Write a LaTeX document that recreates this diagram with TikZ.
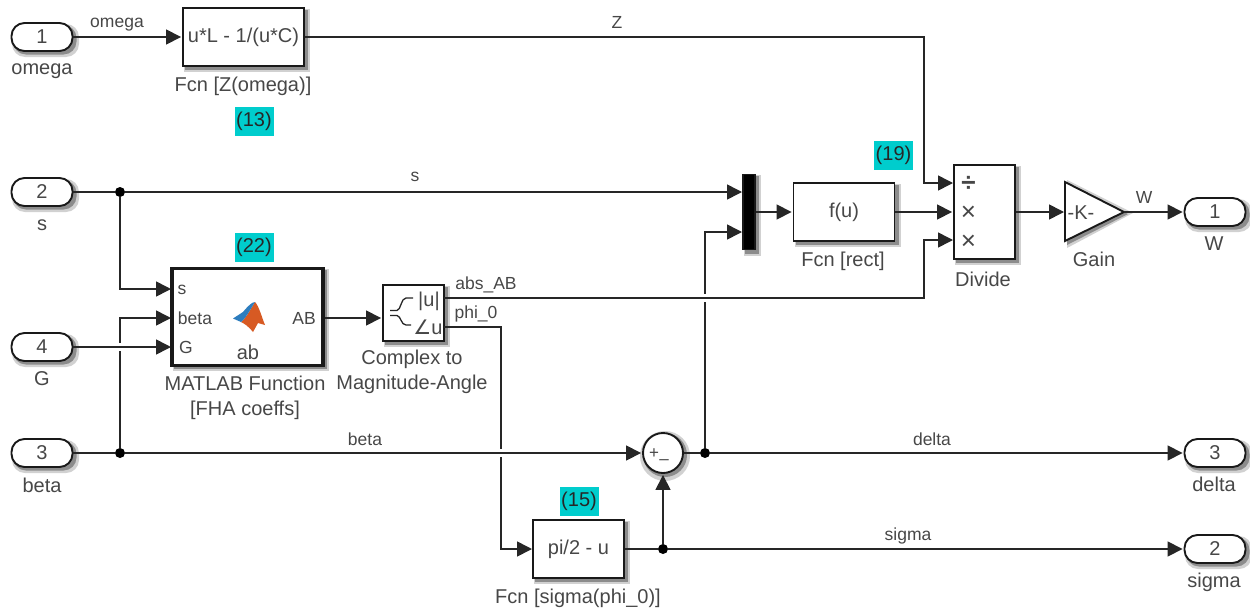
\documentclass[tikz,border=0pt]{standalone}
\usepackage{fontspec}
\setmainfont{Liberation Sans}
\newfontfamily\symfont{DejaVu Sans}
\usetikzlibrary{arrows.meta}
\definecolor{tagcyan}{RGB}{0,205,205}
\definecolor{logoblue}{RGB}{45,125,190}
\definecolor{logoorange}{RGB}{215,90,35}
\begin{document}
\begin{tikzpicture}[x=1pt,y=-1pt,
  every node/.style={font=\fontsize{20}{25}\selectfont,text=black!72,inner sep=0pt,align=center},
  sig/.style={font=\fontsize{17.5}{20}\selectfont},
  wire/.style={line width=1.6pt,black!85,-{Triangle[length=15pt,width=15pt]},shorten >=1pt},
  plainwire/.style={line width=1.6pt,black!85},
  block/.style={draw=black!90,line width=1.9pt,fill=white},
  port/.style={block,rounded corners=13pt,minimum width=61pt,minimum height=28pt},
  tag/.style={fill=tagcyan,minimum width=39pt,minimum height=29pt,text=black!85},
  dot/.style={circle,fill=black,minimum size=10pt}]
\useasboundingbox (0,0) rectangle (1250,608);
\foreach \xa/\ya/\xb/\yb/\rr in {183/8/304/66/0,172/268/323/365/0,383/285/444/341/0,743/174/755/250/0,794/183/895/241/0,954/165/1015/259/0,533/520/624/578/0,
  11/23/73/51/13,11/178/73/206/13,11/333/73/361/13,11/439/73/467/13,1184/198/1246/226/13,1184/439/1246/467/13,1184/535/1246/563/13}{
  \fill[black!18,rounded corners=\rr pt] (\xa+1,\ya+1) rectangle (\xb+6,\yb+6);
  \fill[black!45,rounded corners=\rr pt] (\xa+2,\ya+2) rectangle (\xb+3.5,\yb+3.5);
}
\fill[black!18] (1067,180) -- (1133,213) -- (1067,248) -- cycle;
\fill[black!45] (1067,184) -- (1128,214) -- (1067,245) -- cycle;
\fill[black!18] (665,456) circle (25);
\fill[black!45] (665,455) circle (22);
\node[port] (in1) at (42,37) {1};
\node[port] (in2) at (42,192) {2};
\node[port] (in4) at (42,347) {4};
\node[port] (in3) at (42,453) {3};
\node[port] (outW) at (1215,212) {1};
\node[port] (outdelta) at (1215,453) {3};
\node[port] (outsigma) at (1215,549) {2};
\node (lomega) at (42,71) {omega};
\node (ls) at (42,225) {s};
\node (lG) at (42,379) {G};
\node (lbeta) at (42,485) {beta};
\node (lW) at (1214,244) {W};
\node (ldelta) at (1214,484) {delta};
\node (lsigma) at (1214,582) {sigma};
\node[block,minimum width=121pt,minimum height=58pt] (fcnZ) at (243.5,37) {u*L - 1/(u*C)};
\node (lfcnZ) at (243,86) {Fcn [Z(omega)]};
\node[tag] (t13) at (254,121) {(13)};
\node[tag] (t22) at (254,247) {(22)};
\node[block,line width=3.5pt,minimum width=151pt,minimum height=97pt] (ml) at (247.5,317) {};
\node[sig] (ms) at (182,290) {s};
\node[sig] (mbeta) at (195,318) {beta};
\node[sig] (mG) at (186,347) {G};
\node[sig] (mAB) at (304,318) {AB};
\node (mab) at (248,352) {ab};
\fill[logoorange] (255,302) .. controls (259,306) and (262,318) .. (265,325) -- (258,323) -- (253,332) .. controls (248,326) and (245,324) .. (241,322) .. controls (246,318) and (250,310) .. cycle;
\fill[logoblue] (233,318.5) -- (243,312) .. controls (248,306) and (252,302) .. (255,302) .. controls (250,310) and (246,318) .. (241,322) -- cycle;
\node (lml) at (245,398) {MATLAB Function\\{[FHA coeffs]}};
\node[block,minimum width=61pt,minimum height=56pt] (mag) at (413.5,313) {};
\node (magu) at (429,301) {|u|};
\node (maga) at (428,327) {{\symfont ∠}u};
\draw[line width=1.3pt,black!85] (390,310.5) -- (397,310.5) .. controls (401,310) and (401,298) .. (406,298) -- (413,298);
\draw[line width=1.3pt,black!85] (390,315.5) -- (397,315.5) .. controls (401,316) and (401,325) .. (406,325) -- (411,325);
\node (lmag) at (412,372) {Complex to\\Magnitude-Angle};
\node[block,fill=black,minimum width=12pt,minimum height=75pt] (mux) at (749,212) {};
\node[block,minimum width=101pt,minimum height=58pt] (fcnrect) at (844,212) {f(u)};
\node (lrect) at (843,261) {Fcn [rect]};
\node[tag] (t19) at (893.5,155) {(19)};
\node[block,minimum width=61pt,minimum height=94pt] (divide) at (984.5,212) {};
\node (dv) at (968.5,184) {\fontsize{26}{26}\bfseries\selectfont ÷};
\node (m1) at (968.5,213) {\fontsize{26}{26}\selectfont ×};
\node (m2) at (968.5,242) {\fontsize{26}{26}\selectfont ×};
\node (ldiv) at (983,279) {Divide};
\draw[block,line join=miter] (1065,182) -- (1124,212) -- (1065,241) -- cycle;
\coordinate (gain) at (1065,212);
\coordinate (gainout) at (1124,212);
\node (K) at (1081,213) {-K-};
\node (lgain) at (1094,259) {Gain};
\node[block,circle,minimum size=40pt] (sum) at (663,453) {};
\node (plus) at (654,454) {\fontsize{17}{17}\selectfont +};
\node (minus) at (664,462) {\fontsize{17}{17}\selectfont --};
\node[block,minimum width=91pt,minimum height=58pt] (fcnsig) at (578.5,549) {pi/2 - u};
\node (lsig) at (578,598) {Fcn [sigma(phi\_0)]};
\node[tag] (t15) at (579,501) {(15)};
\node[dot] (j2) at (120,192) {};
\node[dot] (j3) at (120,453) {};
\node[dot] (jd) at (705,453) {};
\node[dot] (js) at (663,549) {};
\coordinate (mlS) at (172,289);
\coordinate (mlB) at (172,318);
\coordinate (mlG) at (172,347);
\coordinate (muxA) at (743,192);
\coordinate (muxB) at (743,232);
\coordinate (divA) at (954,183);
\coordinate (divC) at (954,240);
\coordinate (magA) at (444,298);
\coordinate (magP) at (444,327);
\coordinate (sigin) at (533,549);
\coordinate (crossb) at (501,453);
\draw[wire] (in1) -- (fcnZ);
\node[sig] (womega) at (117,25) {omega};
\draw[wire] (fcnZ.east) -- (924,37) -- (924,183) -- (divA);
\draw[plainwire] (in2) -- (j2);
\draw[wire] (j2) -- (muxA);
\draw[wire] (j2) |- (mlS);
\draw[plainwire] (in3) -- (j3);
\draw[wire] (j3) |- (mlB);
\draw[white,line width=3.5pt] (120,343) -- (120,351);
\draw[wire] (in4) -- (mlG);
\draw[wire] (ml.east |- mlB) -- (mag.west |- mlB);
\draw[wire] (magP) -| (crossb) |- (sigin);
\draw[white,line width=3.5pt] (501,449) -- (501,457);
\draw[wire] (j3) -- (sum);
\draw[plainwire] (sum) -- (jd);
\draw[wire] (jd) -- (outdelta);
\draw[wire] (jd) |- (muxB);
\draw[white,line width=3.5pt] (705,294) -- (705,302);
\draw[wire] (magA) -- (924,298) |- (divC);
\draw[plainwire] (fcnsig) -- (js);
\draw[wire] (js) -- (outsigma);
\draw[wire] (js) -- (sum);
\draw[wire] (mux) -- (fcnrect);
\draw[wire] (fcnrect) -- (divide);
\draw[wire] (divide) -- (gain);
\draw[wire] (gainout) -- (outW);
\node[sig] (wZ) at (617,22) {Z};
\node[sig] (ws) at (415,177) {s};
\node[sig] (wbeta) at (365,439) {beta};
\node[sig] (wdelta) at (932,439) {delta};
\node[sig] (wsigma) at (908,536) {sigma};
\node[sig] (wabs) at (486,285) {abs\_AB};
\node[sig] (wphi) at (476,314) {phi\_0};
\node[sig] (wW) at (1144,197) {W};
\end{tikzpicture}
\end{document}
